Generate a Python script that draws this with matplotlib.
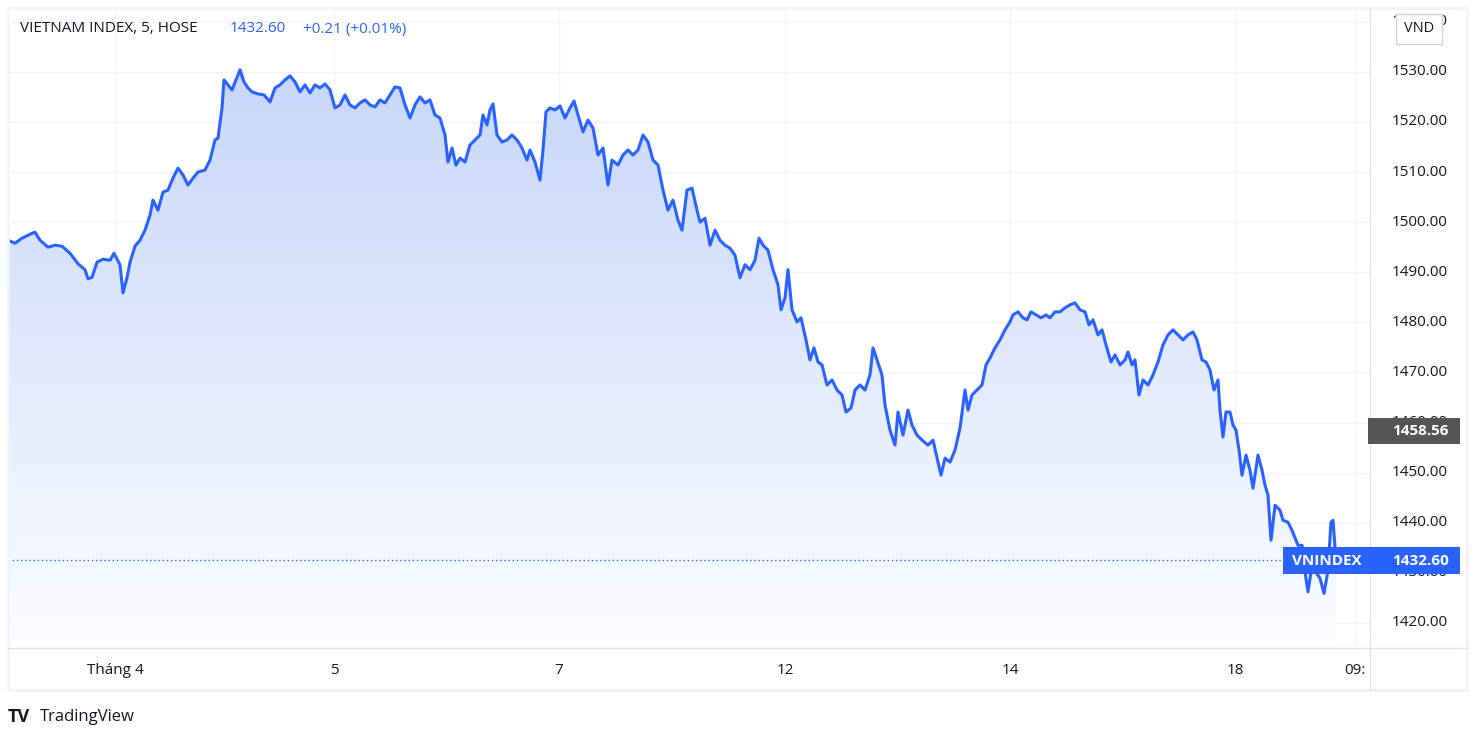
import matplotlib.pyplot as plt
import numpy as np
from matplotlib.patches import Rectangle, Polygon

# time position (arbitrary units along the session axis) and index value
t = [0.8,1.5,2.2,3.0,3.5,4.0,4.8,5.5,6.2,7.0,7.8,8.5,8.8,9.2,9.7,10.3,11.0,11.4,12.0,12.3,12.7,13.0,13.5,14.0,14.5,15.0,15.3,15.8,16.3,16.8,
     17.3,17.8,18.3,18.8,19.3,19.8,20.5,21.0,21.5,21.8,22.2,22.4,22.8,23.2,23.6,24.0,24.4,24.8,25.2,25.8,26.4,27.0,27.5,28.0,28.5,29.0,29.5,30.0,30.5,31.0,
     31.5,32.0,32.5,33.0,33.5,34.0,34.5,35.0,35.5,36.0,36.5,37.0,37.5,38.0,38.5,39.0,39.5,40.0,40.5,41.0,41.5,42.0,42.5,43.0,43.5,44.0,44.5,44.8,45.2,45.6,
     46.0,46.5,47.0,47.5,48.0,48.3,48.7,49.0,49.3,49.7,50.2,50.7,51.2,51.7,52.2,52.7,53.0,53.5,54.0,54.3,54.6,55.0,55.5,56.0,56.5,57.0,57.4,57.8,58.3,58.8,
     59.3,59.8,60.3,60.8,61.2,61.8,62.3,62.8,63.3,63.8,64.3,64.8,65.3,65.8,66.3,66.8,67.3,67.8,68.2,68.7,69.2,69.7,70.0,70.5,71.0,71.5,72.0,72.5,73.0,73.5,
     74.0,74.5,75.0,75.5,75.9,76.3,76.8,77.3,77.8,78.1,78.5,78.8,79.2,79.7,80.1,80.6,81.0,81.4,81.8,82.2,82.7,83.2,83.7,84.2,84.6,85.1,85.5,86.0,86.5,87.0,
     87.3,87.7,88.2,88.5,89.0,89.5,89.8,90.3,90.8,91.2,91.7,92.2,92.8,93.3,93.8,94.1,94.5,95.0,95.5,96.0,96.5,96.8,97.2,97.7,98.2,98.6,99.0,99.5,100.0,100.5,
     101.0,101.3,101.8,102.3,102.7,103.1,103.6,104.1,104.6,105.0,105.5,106.0,106.5,107.0,107.5,108.0,108.5,108.9,109.3,109.8,110.2,110.6,111.1,111.5,112.0,112.5,112.8,113.2,113.5,113.9,
     114.3,114.8,115.3,115.8,116.3,116.8,117.3,117.8,118.3,118.8,119.3,119.7,120.2,120.6,121.0,121.4,121.8,122.0,122.3,122.6,123.0,123.3,123.6,123.9,124.2,124.6,125.0,125.3,125.8,126.2,
     126.5,126.8,127.1,127.5,128.0,128.3,128.8,129.2,129.8,130.2,130.5,130.8,131.2,131.5,131.8,132.0,132.4,132.8,133.1,133.3,133.6]
v = [1496.4,1495.8,1496.8,1497.6,1498.0,1496.4,1495.0,1495.4,1495.2,1493.8,1491.7,1490.5,1488.7,1489.0,1492.0,1492.6,1492.4,1493.8,1491.5,1485.9,1488.9,1492.0,1495.2,1496.4,1498.4,1501.4,1504.4,1502.4,1506.0,1506.4,
     1508.8,1510.8,1509.4,1507.4,1508.8,1510.0,1510.4,1512.4,1516.4,1516.8,1522.8,1528.4,1527.4,1526.4,1528.4,1530.4,1528.0,1526.8,1526.0,1525.6,1525.4,1524.0,1526.8,1527.4,1528.4,1529.2,1528.0,1526.0,1527.4,1525.8,
     1527.4,1526.8,1527.6,1526.4,1522.8,1523.4,1525.4,1523.4,1522.8,1523.8,1524.4,1523.4,1523.0,1524.4,1523.8,1525.4,1527.0,1526.8,1523.4,1520.8,1523.4,1525.0,1523.8,1524.4,1521.4,1520.8,1517.4,1512.0,1514.8,1511.4,
     1512.8,1512.0,1515.4,1516.4,1517.4,1521.4,1519.4,1522.4,1523.6,1517.4,1516.0,1516.4,1517.4,1516.4,1514.8,1512.4,1514.4,1512.0,1508.4,1514.4,1522.0,1522.8,1522.4,1523.2,1520.8,1522.8,1524.2,1521.4,1518.0,1520.4,
     1518.8,1513.4,1514.8,1507.4,1512.4,1511.4,1513.4,1514.4,1513.4,1514.4,1517.4,1516.0,1512.4,1511.4,1506.4,1502.4,1504.4,1500.4,1498.4,1506.4,1506.8,1502.4,1500.0,1500.8,1495.4,1498.4,1496.4,1495.4,1494.8,1493.4,
     1488.9,1491.5,1490.5,1492.4,1496.8,1495.4,1494.4,1490.5,1487.5,1482.5,1484.9,1490.5,1482.5,1480.1,1480.9,1476.5,1472.5,1474.9,1472.1,1471.5,1467.5,1468.5,1466.5,1465.5,1462.1,1462.9,1466.5,1467.5,1466.5,1469.5,
     1474.9,1472.5,1469.5,1463.5,1458.5,1455.5,1462.1,1457.5,1462.5,1459.5,1457.5,1456.5,1455.5,1456.5,1452.1,1449.5,1452.9,1452.1,1454.5,1458.9,1466.5,1462.5,1465.5,1466.5,1467.5,1471.5,1472.9,1474.9,1476.5,1478.5,
     1480.1,1481.5,1482.1,1480.9,1480.5,1482.1,1481.5,1480.9,1481.5,1480.9,1482.1,1482.1,1482.9,1483.5,1483.9,1482.5,1482.1,1479.5,1480.5,1477.5,1478.5,1475.5,1472.1,1473.5,1471.5,1472.5,1474.1,1471.5,1472.5,1465.5,
     1468.5,1467.5,1469.5,1472.1,1475.5,1477.5,1478.5,1477.5,1476.5,1477.5,1478.1,1476.5,1472.5,1472.1,1470.5,1466.5,1468.5,1462.5,1457.1,1462.1,1462.1,1459.5,1458.5,1454.5,1449.5,1453.5,1450.5,1446.9,1453.5,1450.5,
     1447.5,1445.5,1436.5,1443.5,1442.5,1440.5,1440.1,1438.5,1435.5,1435.5,1430.2,1426.2,1431.5,1430.5,1429.5,1428.9,1425.9,1430.5,1440.1,1440.5,1432.6]
tick_pos = [11.5, 33.4, 55.9, 78.5, 101.0, 123.5, 135.5]
tick_lbl = ['Tháng 4', '5', '7', '12', '14', '18', '09:']
yticks = [1420, 1430, 1440, 1450, 1460, 1470, 1480, 1490, 1500, 1510, 1520, 1530, 1540]
last_price = 1432.60
cross_price = 1458.56

W, H = 1481, 743
fig = plt.figure(figsize=(W / 100, H / 100), dpi=100)
plt.rcParams['font.family'] = ['Open Sans', 'DejaVu Sans']

L, R, T, B = 8, 1370, 8, 648
ax = fig.add_axes([L / W, 1 - B / H, (R - L) / W, (B - T) / H])
ymin, ymax = 1415.0, 1542.75
ax.set_xlim(0.8, 137.0)
ax.set_ylim(ymin, ymax)

line_col = '#2962ff'
# gradient fill under line (rgb image, bottom -> top)
grad = np.linspace(0, 1, 256).reshape(-1, 1, 1)
top = np.array([0.78, 0.84, 0.98]).reshape(1, 1, 3)
bot = np.array([0.985, 0.99, 1.0]).reshape(1, 1, 3)
img = bot + (top - bot) * grad
im = ax.imshow(img, extent=[t[0], t[-1], ymin, max(v)], origin='lower',
               aspect='auto', zorder=1, interpolation='bilinear')
poly = Polygon(list(zip(t, v)) + [(t[-1], ymin), (t[0], ymin)], closed=True, transform=ax.transData)
im.set_clip_path(poly)
ax.plot(t, v, color=line_col, lw=2.2, zorder=3)
ax.axhline(last_price, color=line_col, lw=1, ls=(0, (1, 2)), zorder=2)

for y in yticks:
    ax.axhline(y, color='#f0f3fa', lw=1, zorder=0)
for x in tick_pos:
    ax.axvline(x, color='#f0f3fa', lw=1, zorder=0)
ax.set_xticks([])
ax.set_yticks([])
for s in ax.spines.values():
    s.set_visible(False)

# overlay axes in pixel coordinates for the frame and labels
ov = fig.add_axes([0, 0, 1, 1], facecolor='none')
ov.set_xlim(0, W)
ov.set_ylim(H, 0)
ov.axis('off')
fc = '#e0e3eb'
ov.add_patch(Rectangle((8, 8), 1459, 682, fill=False, ec='#f0f3fa', lw=2))
ov.plot([8, 1467], [648, 648], color=fc, lw=1)
ov.plot([1370, 1370], [8, 690], color=fc, lw=1)

def ypx(val):
    return T + (ymax - val) / (ymax - ymin) * (B - T)

def xpx(tv):
    return L + (tv - 0.8) / (137.0 - 0.8) * (R - L)

for y in yticks:
    ov.text(1448, ypx(y), f'{y:.2f}', ha='right', va='center', fontsize=11, color='#131722', zorder=2)
for x, lb in zip(tick_pos, tick_lbl):
    ov.text(xpx(x), 670, lb, ha='center', va='center', fontsize=11, color='#131722')

ov.add_patch(Rectangle((1368, 418), 92, 26, fc='#555555', ec='none', zorder=5))
ov.text(1449, 431, f'{cross_price:.2f}', ha='right', va='center', fontsize=11, color='white', zorder=6, weight='bold')
ov.add_patch(Rectangle((1283, 547), 177, 27, fc=line_col, ec='none', zorder=5))
ov.text(1292, 561, 'VNINDEX', ha='left', va='center', fontsize=11, color='white', zorder=6, weight='bold')
ov.text(1449, 561, f'{last_price:.2f}', ha='right', va='center', fontsize=11, color='white', zorder=6, weight='bold')

ov.add_patch(Rectangle((1396, 14), 46, 30, fc='white', ec='#d1d4dc', lw=1, zorder=5))
ov.text(1419, 29, 'VND', ha='center', va='center', fontsize=10.5, color='#131722', zorder=6)

ov.text(20, 29, 'VIETNAM INDEX, 5, HOSE', ha='left', va='center', fontsize=11, color='#131722')
ov.text(230, 29, '1432.60', ha='left', va='center', fontsize=11, color=line_col)
ov.text(303, 29, '+0.21 (+0.01%)', ha='left', va='center', fontsize=11, color=line_col)

ov.text(8, 717, 'TV', ha='left', va='center', fontsize=13, weight='bold', color='#131722')
ov.text(40, 717, 'TradingView', ha='left', va='center', fontsize=12, color='#131722')

fig.savefig('out.png', dpi=100)
